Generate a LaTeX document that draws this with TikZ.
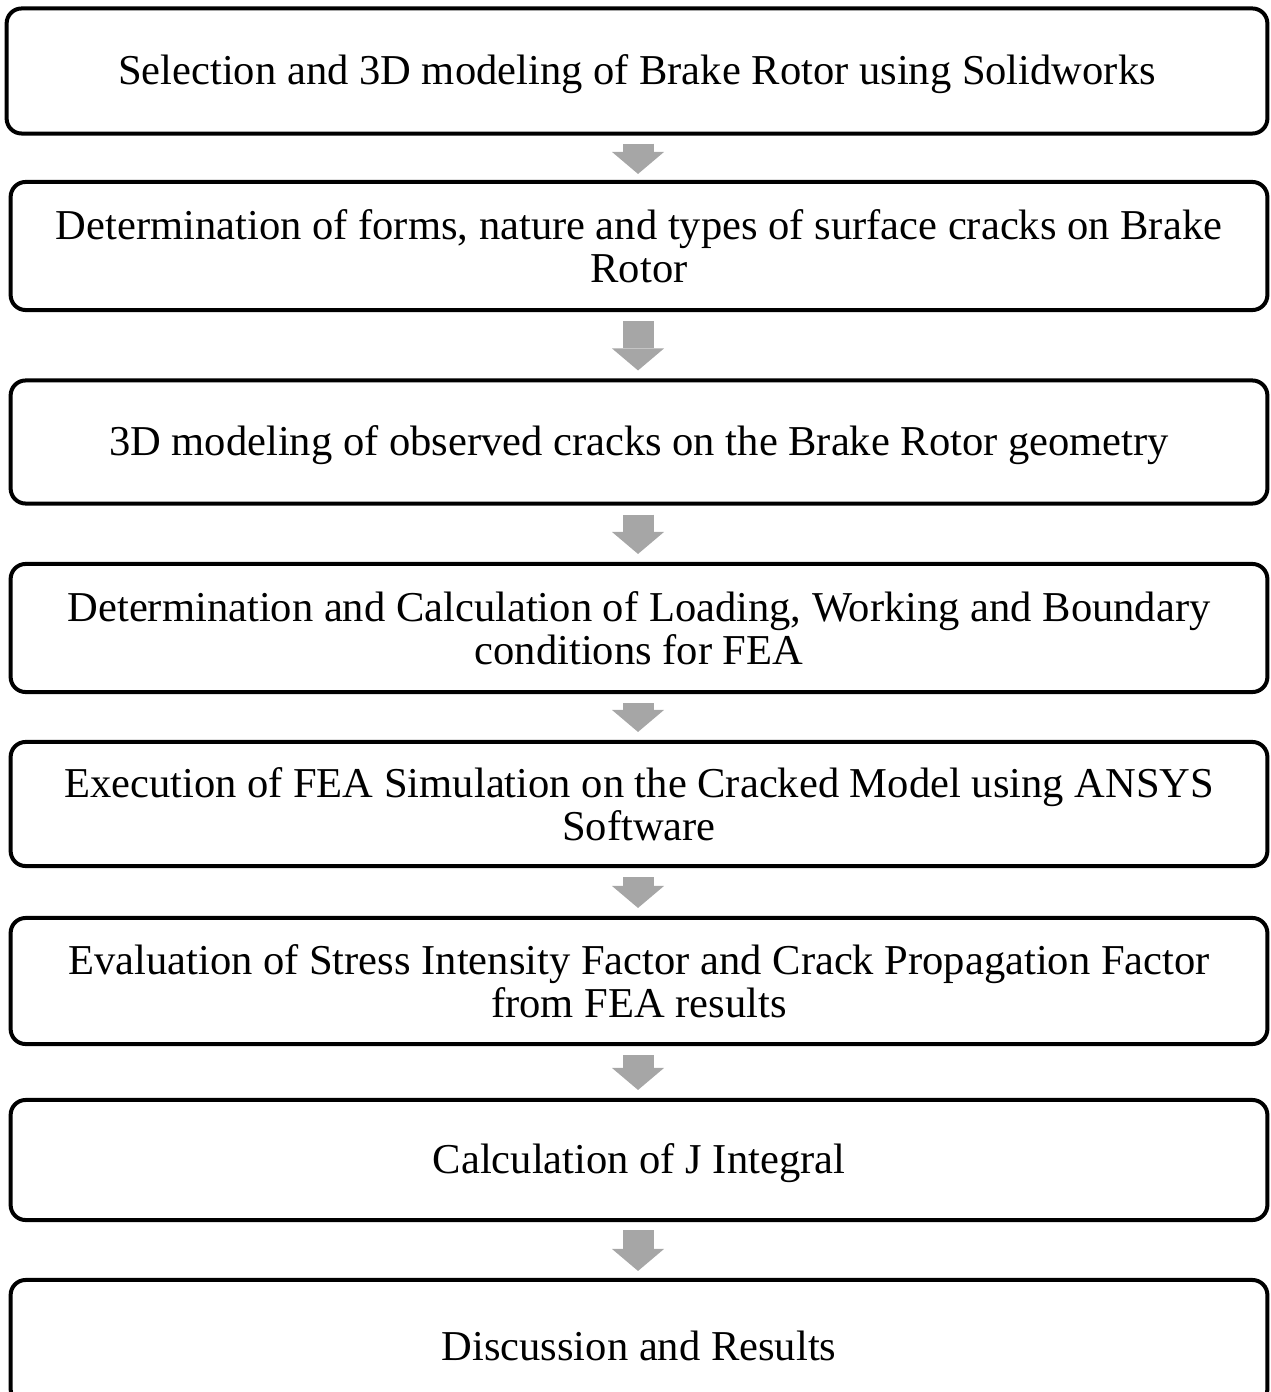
\documentclass[tikz,border=0pt]{standalone}
\usepackage{fontspec}
\setmainfont{Liberation Serif}
\usetikzlibrary{arrows.meta, positioning}
\definecolor{arrowgray}{RGB}{166,166,166}

\begin{document}
\begin{tikzpicture}[x=0.01cm, y=-0.01cm,
    stepbox/.style={draw, line width=0.04cm, rectangle, rounded corners=0.15cm,
        minimum width=12.56cm, inner sep=0pt, align=center,
        font=\fontsize{12.1}{12.3}\selectfont,
        execute at begin node={\rule{0pt}{0.37cm}}},
    blockarrow/.style={arrowgray, line width=0.31cm,
        -{Triangle[width=0.52cm, length=0.22cm, line width=0pt]}}]
    \useasboundingbox (0,0) rectangle (1271,1392);

    % Process steps
    \node[stepbox, minimum width=12.6cm, minimum height=1.25cm] (Model) at (637,71) {Selection and 3D modeling of Brake Rotor using Solidworks};
    \node[stepbox, minimum height=1.28cm] (Forms) at (639,246) {Determination of forms, nature and types of surface cracks on Brake\\Rotor};
    \node[stepbox, minimum height=1.23cm] (Cracks) at (639,442) {3D modeling of observed cracks on the Brake Rotor geometry};
    \node[stepbox, minimum height=1.28cm] (Loads) at (639,628) {Determination and Calculation of Loading, Working and Boundary\\conditions for FEA};
    \node[stepbox, minimum height=1.24cm] (Simulation) at (639,804) {Execution of FEA Simulation on the Cracked Model using ANSYS\\Software};
    \node[stepbox, minimum height=1.26cm] (Factors) at (639,981) {Evaluation of Stress Intensity Factor and Crack Propagation Factor\\from FEA results};
    \node[stepbox, minimum height=1.20cm] (JIntegral) at (639,1160) {Calculation of J Integral};
    \node[stepbox, minimum height=1.24cm] (Results) at (639,1342) {Discussion and Results};

    % Arrows
    \draw[blockarrow, shorten <=0.08cm, shorten >=0.06cm] (Model.south -| 638,0) -- (Forms.north -| 638,0);
    \draw[blockarrow, shorten <=0.09cm, shorten >=0.08cm] (Forms.south -| 638,0) -- (Cracks.north -| 638,0);
    \draw[blockarrow, shorten <=0.09cm, shorten >=0.08cm] (Cracks.south -| 638,0) -- (Loads.north -| 638,0);
    \draw[blockarrow, shorten <=0.09cm, shorten >=0.08cm] (Loads.south -| 638,0) -- (Simulation.north -| 638,0);
    \draw[blockarrow, shorten <=0.09cm, shorten >=0.08cm] (Simulation.south -| 638,0) -- (Factors.north -| 638,0);
    \draw[blockarrow, shorten <=0.09cm, shorten >=0.08cm] (Factors.south -| 638,0) -- (JIntegral.north -| 638,0);
    \draw[blockarrow, shorten <=0.08cm, shorten >=0.07cm] (JIntegral.south -| 638,0) -- (Results.north -| 638,0);
\end{tikzpicture}
\end{document}
